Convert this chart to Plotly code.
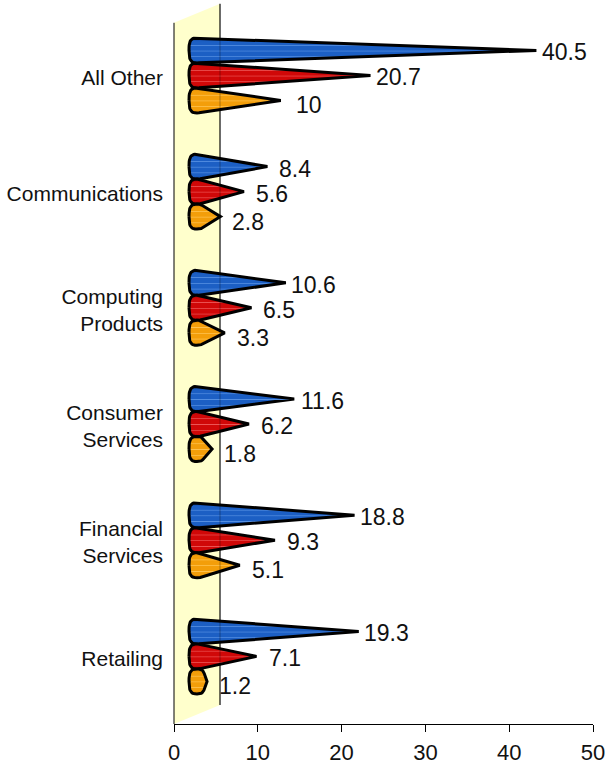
import numpy as np
import plotly.graph_objects as go

# ---- data -------------------------------------------------------------
categories = ["All Other", "Communications", "Computing<br>Products",
              "Consumer<br>Services", "Financial<br>Services", "Retailing"]
blue_vals = [40.5, 8.4, 10.6, 11.6, 18.8, 19.3]
red_vals = [20.7, 5.6, 6.5, 6.2, 9.3, 7.1]
orange_vals = [10, 2.8, 3.3, 1.8, 5.1, 1.2]
x_ticks = [0, 10, 20, 30, 40, 50]

# ---- page / axis geometry --------------------------------------------
W, H = 608, 764
M_L, M_R, M_T, M_B = 174, 15, 0, 40
X_MAX = 50
px_x = (W - M_L - M_R) / X_MAX          # pixels per x unit
cat_px = 116.2                          # pixels per category band
px_y = cat_px                           # pixels per y unit
y_lo = -0.5
y_hi = y_lo + (H - M_T - M_B) / px_y

# 3-D depth of the wall (pixels -> data units)
depth_dx = 46 / px_x
depth_dy = 19 / px_y
wall_pad = 4 / px_y

# cone geometry (pixels)
slot_px = 25
rad_x, rad_y = 8, 12.5
base_pow = 3.0                          # squarish base outline

n_cat = len(categories)
cat_y = [n_cat - 1 - i for i in range(n_cat)]   # first category on top
mid_y = [c + depth_dy / 2 for c in cat_y]
bar_x0 = depth_dx / 2


def scale(dark, base, light):
    return [[0.0, dark], [0.12, base], [0.22, base], [0.25, light],
            [0.28, base], [0.45, base], [0.48, light], [0.51, base],
            [0.68, base], [0.71, light], [0.74, base], [0.86, base],
            [1.0, dark]]


series = [
    dict(vals=blue_vals, off=slot_px, ysh=-2,
         cs=scale("#10439a", "#1c5fc4", "#5690e2")),
    dict(vals=red_vals, off=0, ysh=-2,
         cs=scale("#9e0000", "#d00808", "#ec5555")),
    dict(vals=orange_vals, off=-slot_px, ysh=-5,
         cs=scale("#d68000", "#f39e0a", "#ffc452")),
]


def hull(pts):
    """Convex hull (monotone chain), counter-clockwise."""
    pts = sorted(set(pts))
    if len(pts) < 3:
        return pts

    def cross(o, a, b):
        return (a[0] - o[0]) * (b[1] - o[1]) - (a[1] - o[1]) * (b[0] - o[0])

    lower, upper = [], []
    for p in pts:
        while len(lower) >= 2 and cross(lower[-2], lower[-1], p) <= 0:
            lower.pop()
        lower.append(p)
    for p in reversed(pts):
        while len(upper) >= 2 and cross(upper[-2], upper[-1], p) <= 0:
            upper.pop()
        upper.append(p)
    return lower[:-1] + upper[:-1]


def cone(v, yc):
    """Outline of a cone lying on its side: rounded base plus tip."""
    ang = np.linspace(0, 2 * np.pi, 48, endpoint=False)
    c, s = np.cos(ang), np.sin(ang)
    bx = rad_x * np.sign(c) * np.abs(c) ** (2 / base_pow)
    by = rad_y * np.sign(s) * np.abs(s) ** (2 / base_pow)
    pts = [(round(float(x), 4), round(float(y), 4)) for x, y in zip(bx, by)]
    pts.append((v * px_x, 0.0))
    poly = hull(pts)
    poly.append(poly[0])
    return ([bar_x0 + p[0] / px_x for p in poly],
            [yc + p[1] / px_y for p in poly])


fig = go.Figure()

annotations = []
for s in series:
    for v, yc0 in zip(s["vals"], mid_y):
        yc = yc0 + s["off"] / px_y
        xs, ys = cone(v, yc)
        fig.add_trace(go.Scatter(
            x=xs, y=ys, mode="lines", fill="toself",
            line=dict(color="black", width=3),
            fillgradient=dict(type="vertical", colorscale=s["cs"]),
            hoverinfo="skip", showlegend=False))
        annotations.append(dict(
            x=bar_x0 + v, y=yc, text=f"{v:g}", showarrow=False,
            xanchor="center", yanchor="middle", xshift=28, yshift=s["ysh"],
            font=dict(family="Liberation Sans, Arial, sans-serif",
                      size=23, color="#111111")))

# back wall (yellow) and its edges
wall_top = n_cat - 0.5 + wall_pad
shapes = [
    dict(type="path", layer="below", xref="x", yref="y",
         path=(f"M 0 {y_lo} L 0 {wall_top} L {depth_dx} {wall_top + depth_dy} "
               f"L {depth_dx} {y_lo + depth_dy} Z"),
         fillcolor="#ffffcc", line=dict(width=0)),
    dict(type="line", layer="below", xref="x", yref="y",
         x0=depth_dx, x1=depth_dx, y0=y_lo + depth_dy, y1=wall_top + depth_dy,
         line=dict(color="black", width=1)),
    dict(type="line", layer="above", xref="x", yref="y",
         x0=depth_dx, x1=depth_dx, y0=y_lo + depth_dy, y1=wall_top + depth_dy,
         line=dict(color="black", width=1), opacity=0.3),
    dict(type="line", layer="above", xref="paper", yref="y",
         x0=0, x1=0, y0=y_lo, y1=wall_top,
         line=dict(color="black", width=1)),
]

fig.update_layout(
    width=W, height=H,
    margin=dict(l=M_L, r=M_R, t=M_T, b=M_B, pad=0),
    plot_bgcolor="white", paper_bgcolor="white",
    shapes=shapes, annotations=annotations,
    showlegend=False,
    xaxis=dict(range=[0, X_MAX], tickvals=x_ticks, ticktext=[str(t) for t in x_ticks],
               showgrid=False, zeroline=False, showline=True, linecolor="black",
               linewidth=1, ticks="outside", ticklen=7, tickcolor="black",
               ticklabelstandoff=2,
               tickfont=dict(family="Liberation Sans, Arial, sans-serif",
                             size=22, color="#111111")),
    yaxis=dict(range=[y_lo, y_hi],
               tickvals=[m - 2 / px_y for m in mid_y],
               ticktext=categories,
               showgrid=False, zeroline=False, showline=False, ticks="",
               ticklabelstandoff=10,
               tickfont=dict(family="Liberation Sans, Arial, sans-serif",
                             size=21, color="#111111")),
)

fig.write_html("out.html")
